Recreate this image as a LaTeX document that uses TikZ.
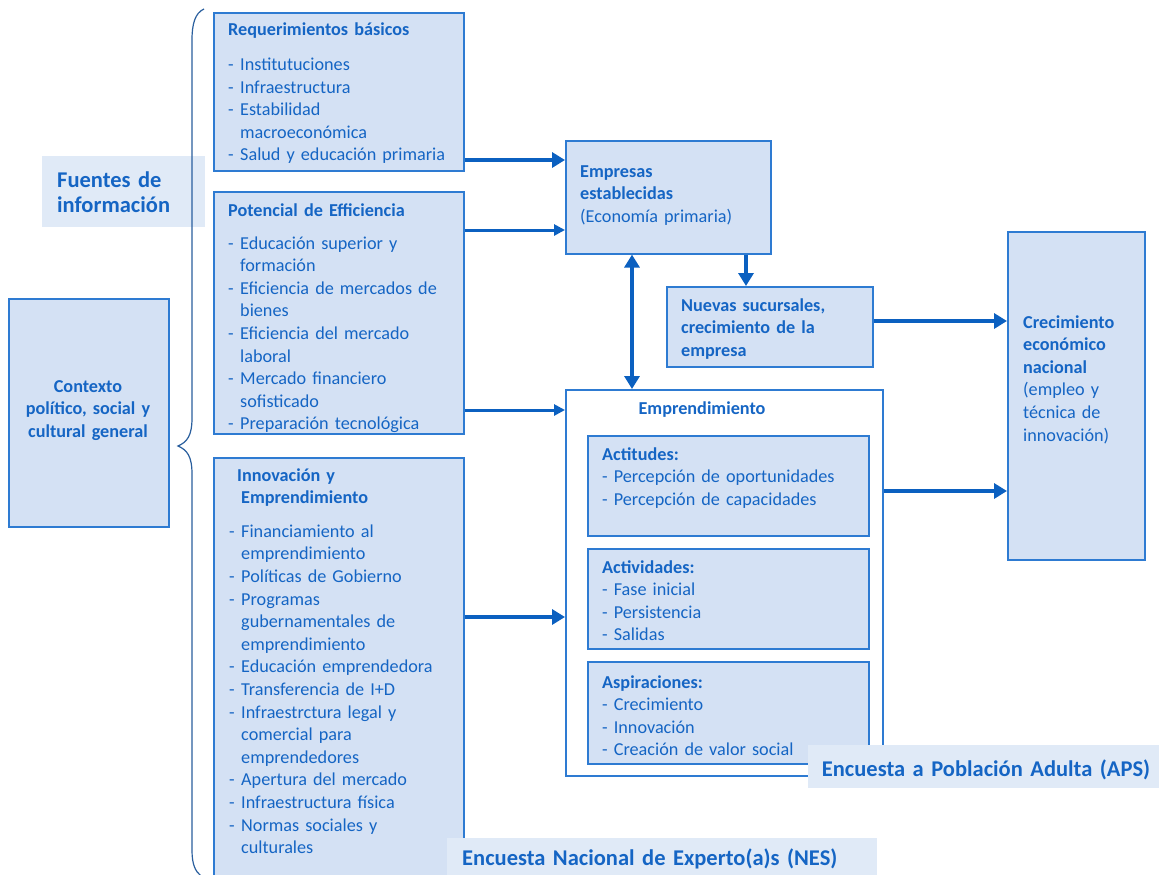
\documentclass[tikz,border=0pt]{standalone}
\usepackage{fontspec}
\setmainfont{Carlito}
\usetikzlibrary{arrows.meta,calc}
\definecolor{boxc}{HTML}{D4E1F4}
\definecolor{bordc}{HTML}{2E7BD2}
\definecolor{txtc}{HTML}{1565C4}
\definecolor{arrc}{HTML}{0B60C0}
\definecolor{labc}{HTML}{E0EAF7}
\definecolor{bracec}{HTML}{2A5F9E}
\newcommand\itm{\makebox[12pt][l]{-}}
\newcommand\ind{\hspace*{12pt}}
\begin{document}
\begin{tikzpicture}[x=1pt,y=-1pt,
  box/.style={draw=bordc, fill=boxc, line width=1.6pt, anchor=north west, inner sep=0pt},
  lab/.style={fill=labc, draw=none, anchor=north west, inner sep=0pt},
  txt/.style={anchor=base west, align=left, inner sep=0pt, text=txtc, text width=280pt,
    font=\fontsize{18.2}{22.6}\selectfont},
  big/.style={anchor=base west, align=left, inner sep=0pt, text=txtc, text width=400pt,
    font=\bfseries\fontsize{22.5}{25}\selectfont},
  arr/.style={draw=arrc, line width=4.5pt, -{Triangle[length=13pt,width=15pt]}},
  arrs/.style={draw=arrc, line width=3pt, -{Triangle[length=11pt,width=11pt]}},
  darr/.style={draw=arrc, line width=4.5pt, {Triangle[length=13pt,width=15pt]}-{Triangle[length=13pt,width=15pt]}}
]
\useasboundingbox[fill=white] (0,0) rectangle (1159,875);

% left label
\node[lab, minimum width=163pt, minimum height=71pt] (fuentesbg) at (42,156) {};
\node[big] (fuentes) at (57,187) {Fuentes de\\información};

% boxes
\node[box, minimum width=250pt, minimum height=158pt] (req) at (213,12) {};
\node[box, minimum width=250pt, minimum height=242pt] (pot) at (213,191) {};
\node[box, minimum width=250pt, minimum height=430pt] (inn) at (213,457) {};
\node[box, minimum width=160pt, minimum height=228pt] (ctx) at (8,298) {};
\node[box, minimum width=205pt, minimum height=113pt] (emp) at (565,140) {};
\node[box, minimum width=206pt, minimum height=80pt] (nue) at (666,286) {};
\node[box, minimum width=137pt, minimum height=328pt] (cre) at (1007,231) {};
\node[box, fill=white, minimum width=317pt, minimum height=386pt] (ent) at (565,389) {};
\node[box, minimum width=281pt, minimum height=100pt] (act) at (587,435) {};
\node[box, minimum width=281pt, minimum height=100pt] (acv) at (587,548) {};
\node[box, minimum width=281pt, minimum height=102pt] (asp) at (587,661) {};

% texts
\node[txt] (reqt) at (228,36) {\textbf{Requerimientos básicos}\\[12pt]
\itm Institutuciones\\ \itm Infraestructura\\ \itm Estabilidad\\ \ind macroeconómica\\ \itm Salud y educación primaria};
\node[txt] (pott) at (228,216) {\textbf{Potencial de Efficiencia}\\[10.5pt]
\itm Educación superior y\\ \ind formación\\ \itm Eficiencia de mercados de\\ \ind bienes\\ \itm Eficiencia del mercado\\ \ind laboral\\ \itm Mercado financiero\\ \ind sofisticado\\ \itm Preparación tecnológica};
\node[txt] (innt) at (229,481) {\hspace*{8pt}\textbf{Innovación y}\\ \ind\textbf{Emprendimiento}\\[11pt]
\itm Financiamiento al\\ \ind emprendimiento\\ \itm Políticas de Gobierno\\ \itm Programas\\ \ind gubernamentales de\\ \ind emprendimiento\\ \itm Educación emprendedora\\ \itm Transferencia de I+D\\ \itm Infraestrctura legal y\\ \ind comercial para\\ \ind emprendedores\\ \itm Apertura del mercado\\ \itm Infraestructura física\\ \itm Normas sociales y\\ \ind culturales};
\node[txt, align=center, text width=160pt, anchor=base] (ctxt) at (88,392) {\textbf{Contexto}\\ \textbf{político, social y}\\ \textbf{cultural general}};
\node[txt] (empt) at (580,177) {\textbf{Empresas}\\ \textbf{establecidas}\\ (Economía primaria)};
\node[txt] (nuet) at (681,311) {\textbf{Nuevas sucursales,}\\ \textbf{crecimiento de la}\\ \textbf{empresa}};
\node[txt] (cret) at (1023,328) {\textbf{Crecimiento}\\ \textbf{económico}\\ \textbf{nacional}\\ (empleo y\\ técnica de\\ innovación)};
\node[txt, anchor=base, align=center, text width=200pt] (entt) at (702,414) {\textbf{Emprendimiento}};
\node[txt] (actt) at (602,460) {\textbf{Actitudes:}\\ - Percepción de oportunidades\\ - Percepción de capacidades};
\node[txt] (acvt) at (602,573) {\textbf{Actividades:}\\ - Fase inicial\\ - Persistencia\\ - Salidas};
\node[txt] (aspt) at (602,688) {\textbf{Aspiraciones:}\\ - Crecimiento\\ - Innovación\\ - Creación de valor social};

% survey labels
\node[lab, minimum width=351pt, minimum height=43pt] (apsbg) at (808,745) {};
\node[big, anchor=base, align=center] (aps) at (986,776) {Encuesta a Población Adulta (APS)};
\node[lab, minimum width=430pt, minimum height=40pt] (nesbg) at (447,838) {};
\node[big] (nes) at (462,865) {Encuesta Nacional de Experto(a)s (NES)};

% brace
\draw[bracec, line width=1.2pt] (204,9) .. controls (195,13) and (192,24) .. (192,40)
  -- (192,418) .. controls (192,436) and (187,442) .. (178,446)
  .. controls (187,450) and (192,456) .. (192,474)
  -- (192,850) .. controls (192,864) and (195,871) .. (201,876);

% arrows
\draw[arr] (req.east |- 0,160) -- (emp.west |- 0,160);
\draw[arrs] (pot.east |- 0,230) -- (emp.west |- 0,230);
\draw[arrs] (pot.east |- 0,410) -- (ent.west |- 0,410);
\draw[arr] (inn.east |- 0,617) -- (ent.west |- 0,617);
\draw[darr] (emp.south -| 632,0) -- (ent.north -| 632,0);
\draw[arr] (emp.south -| 746,0) -- (nue.north -| 746,0);
\draw[arr] (nue.east |- 0,321) -- (cre.west |- 0,321);
\draw[arr] (ent.east |- 0,491) -- (cre.west |- 0,491);
\end{tikzpicture}
\end{document}
